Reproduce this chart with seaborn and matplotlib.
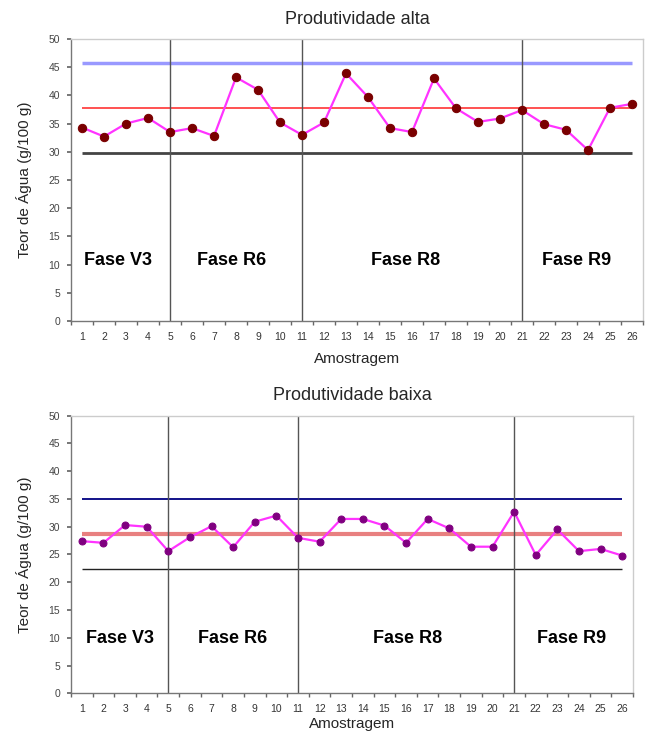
import numpy as np
import pandas as pd
import matplotlib
matplotlib.use("Agg")
import matplotlib.pyplot as plt
import seaborn as sns

# sample numbers (Amostragem)
amostras = list(range(1, 27))

# water content, high productivity
teor_alta = [34.3, 32.7, 35.0, 36.0, 33.5, 34.2, 32.8, 43.2, 41.0, 35.2,
             33.0, 35.2, 43.9, 39.7, 34.2, 33.5, 43.0, 37.7, 35.3, 35.9,
             37.4, 34.9, 33.9, 30.3, 37.8, 38.5]
# water content, low productivity
teor_baixa = [27.4, 27.1, 30.3, 30.0, 25.6, 28.1, 30.1, 26.3, 30.9, 32.0,
              28.0, 27.3, 31.4, 31.4, 30.2, 27.1, 31.4, 29.7, 26.4, 26.4,
              32.7, 24.9, 29.5, 25.6, 26.0, 24.8]

# control limits (upper, mean, lower)
limites_alta = [45.8, 37.8, 29.8]
limites_baixa = [35.0, 28.6, 22.3]

# phase boundaries and labels
divisoes = [5, 11, 21]
fases = ["Fase V3", "Fase R6", "Fase R8", "Fase R9"]
fases_x_alta = [2.63, 7.8, 15.7, 23.5]
fases_x_baixa = [2.76, 7.98, 16.07, 23.65]

sns.set_theme(style="white")
plt.rcParams['font.family'] = ['Liberation Sans', 'DejaVu Sans']

fig = plt.figure(figsize=(6.48, 7.33), dpi=100)
ax1 = fig.add_axes([0.1096, 0.5621, 0.8827, 0.3847])
ax2 = fig.add_axes([0.1096, 0.0542, 0.8673, 0.3787])


def desenha(ax, valores, limites, cores_lim, larg_lim, cor_marker, ms,
            titulo, fases_x, fases_y, xlim, xpad):
    df = pd.DataFrame({'Amostragem': amostras, 'Teor': valores})
    for y, c, lw in zip(limites, cores_lim, larg_lim):
        ax.hlines(y, 1, 26, colors=c, linewidth=lw, zorder=1)
    for d in divisoes:
        ax.axvline(d, color='#555555', linewidth=1, zorder=1)
    sns.lineplot(data=df, x='Amostragem', y='Teor', ax=ax, color='#ff33ff',
                 linewidth=1.6, marker='o', markersize=ms,
                 markerfacecolor=cor_marker, markeredgecolor=cor_marker, zorder=3)
    for f, fx in zip(fases, fases_x):
        ax.text(fx, fases_y, f, ha='center', va='center', fontsize=13,
                fontweight='bold', color='black')
    ax.set_xlim(*xlim)
    ax.set_ylim(0, 50)
    ax.set_yticks(np.arange(0, 51, 5))
    ax.set_xticks(amostras)
    ax.set_xticks(np.arange(0.5, 27, 1), minor=True)
    ax.tick_params(axis='x', which='major', length=0, labelsize=7.5,
                   labelcolor='#333333', pad=8)
    ax.tick_params(axis='x', which='minor', length=3, color='#666666',
                   direction='out', bottom=True)
    ax.tick_params(axis='y', which='major', length=3, color='#666666',
                   direction='out', left=True, labelsize=7.5,
                   labelcolor='#444444', pad=5)
    ax.set_title(titulo, fontsize=13, pad=11)
    ax.set_xlabel('Amostragem', fontsize=11, labelpad=xpad)
    ax.set_ylabel('Teor de Água (g/100 g)', fontsize=11, labelpad=12)
    for s in ['left', 'bottom']:
        ax.spines[s].set_color('#777777')
        ax.spines[s].set_linewidth(1)
    for s in ['top', 'right']:
        ax.spines[s].set_color('#cccccc')
        ax.spines[s].set_linewidth(1)


desenha(ax1, teor_alta, limites_alta, ['#9999ff', '#ff3333', '#444444'],
        [2.5, 1.2, 2.0], '#7a0000', 6, 'Produtividade alta',
        fases_x_alta, 10.8, (0.5, 26.4), 7)
desenha(ax2, teor_baixa, limites_baixa, ['#000080', '#e88080', '#222222'],
        [1.3, 3.0, 1.0], '#800080', 5, 'Produtividade baixa',
        fases_x_baixa, 9.9, (0.5, 26.5), 2)

fig.savefig('out.png', dpi=100)
